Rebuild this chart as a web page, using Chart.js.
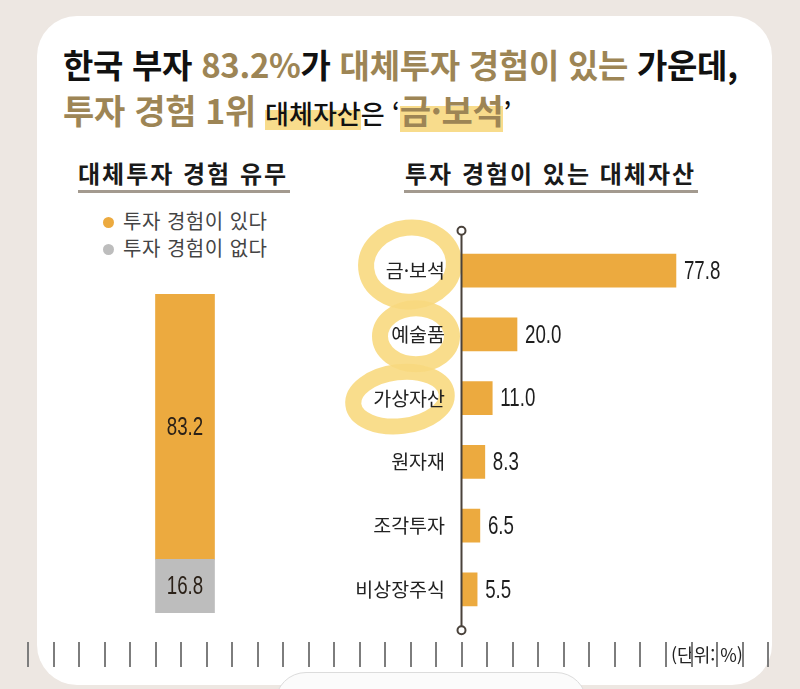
<!DOCTYPE html>
<html lang="ko">
<head>
<meta charset="utf-8">
<script src="https://cdn.jsdelivr.net/npm/chart.js@4.4.1/dist/chart.umd.min.js"></script>
<style>
  body { margin: 0; width: 800px; height: 689px; background: #ede7e2; overflow: hidden; position: relative;
         font-family: "Noto Sans CJK KR", sans-serif; }
  .card { position: absolute; left: 37px; top: 16px; width: 735px; height: 669px; background: #fff; border-radius: 40px; }
  .tab { position: absolute; left: 275px; top: 672px; width: 310px; height: 60px; background: #fbfbfb;
         border: 1.5px solid #dcdcdc; border-radius: 32px; }
  .t { position: absolute; white-space: nowrap; line-height: 1; }
  .title { font-weight: 700; font-size: 33px; letter-spacing: -0.3px; color: #111; }
  .big { font-size: 34px; letter-spacing: -0.3px; }
  .gold { color: #9d8555; }
  .small { font-size: 26px; font-weight: 500; letter-spacing: 0px; }
  .hl { background: linear-gradient(transparent 42%, #f8dc8c 42%, #f8dc8c 96%, transparent 96%); }
  .sub { font-weight: 700; font-size: 24px; color: #1a1a1a; letter-spacing: 2px; }
  .uline { position: absolute; height: 3px; background: #a39a8f; }
  .leg { font-size: 20px; color: #444; letter-spacing: 0.5px; }
  .dot { position: absolute; width: 11px; height: 11px; border-radius: 50%; }
  .tick { position: absolute; top: 642px; width: 2px; height: 25px; background: #7d7d7d; }
  canvas { position: absolute; }
</style>
</head>
<body>
<div class="card"></div>
<div class="tab"></div>

<div class="t title" style="left:63px; top:48px;">한국 부자 <span class="gold">83.2%</span>가 <span class="gold">대체투자 경험이 있는</span> 가운데,</div>
<div class="t title" style="left:63px; top:93px;"><span class="gold big">투자 경험 1위</span> <span class="small"><span class="hl">대체자산</span>은 ‘</span><span class="gold big hl">금·보석</span><span class="small">’</span></div>

<div class="t sub" style="left:78px; top:161px;">대체투자 경험 유무</div>
<div class="uline" style="left:78px; top:190px; width:212px;"></div>
<div class="t sub" style="left:405px; top:161px;">투자 경험이 있는 대체자산</div>
<div class="uline" style="left:404px; top:190px; width:294px;"></div>

<div id="legend"></div>

<canvas id="expChart" width="170" height="345" style="left:100px; top:280px;"></canvas>
<canvas id="assetChart" width="420" height="440" style="left:340px; top:210px;"></canvas>

<div class="t" style="left:671px; top:645px; font-size:18px; color:#222;">(단위: %)</div>
<div id="ruler"></div>

<script>
// 대체투자 경험 유무
const expLabels = ['투자 경험이 있다', '투자 경험이 없다'];
const expValues = [83.2, 16.8];
const expColors = ['#ecaa3f', '#bdbdbd'];

// 투자 경험이 있는 대체자산
const assetLabels = ['금·보석', '예술품', '가상자산', '원자재', '조각투자', '비상장주식'];
const assetValues = [77.8, 20.0, 11.0, 8.3, 6.5, 5.5];
const assetColor = '#ecaa3f';
const circled = ['금·보석', '예술품', '가상자산'];

const numFont = '26px "Liberation Sans", sans-serif';

// narrow number text, like the condensed face in the original
function narrowText(ctx, txt, x, y, align) {
  ctx.save();
  ctx.translate(x, y);
  ctx.scale(0.72, 1);
  ctx.textAlign = align;
  ctx.fillText(txt, 0, 0);
  ctx.restore();
}

// html legend
const legend = document.getElementById('legend');
expLabels.forEach((lab, i) => {
  const y = 216 + i * 27;
  legend.insertAdjacentHTML('beforeend',
    `<div class="dot" style="left:103px; top:${y + 1}px; background:${expColors[i]}"></div>` +
    `<div class="t leg" style="left:123px; top:${y - 5}px;">${lab}</div>`);
});

// ruler ticks along the bottom
const ruler = document.getElementById('ruler');
for (let i = 0; i < 30; i++) {
  ruler.insertAdjacentHTML('beforeend', `<div class="tick" style="left:${Math.round(27 + i * 25.52)}px"></div>`);
}

// value labels inside stacked bar
const stackLabels = {
  id: 'stackLabels',
  afterDatasetsDraw(chart) {
    const ctx = chart.ctx;
    ctx.save();
    ctx.font = numFont;
    ctx.textBaseline = 'middle';
    ctx.fillStyle = '#2b2118';
    chart.data.datasets.forEach((ds, i) => {
      chart.getDatasetMeta(i).data.forEach((bar, j) => {
        narrowText(ctx, ds.data[j].toFixed(1), bar.x, (bar.y + bar.base) / 2 + 1, 'center');
      });
    });
    ctx.restore();
  }
};

new Chart(document.getElementById('expChart'), {
  type: 'bar',
  data: {
    labels: [''],
    // reversed so the "없다" part sits at the bottom of the stack
    datasets: expValues.map((v, i) => ({
      label: expLabels[i], data: [v], backgroundColor: expColors[i], barThickness: 59
    })).reverse()
  },
  options: {
    responsive: false,
    animation: false,
    layout: { padding: { top: 14, bottom: 12 } },
    scales: {
      x: { display: false, stacked: true },
      y: { display: false, stacked: true, min: 0, max: 100 }
    },
    plugins: { legend: { display: false }, tooltip: { enabled: false } }
  },
  plugins: [stackLabels]
});

// axis line with small circles, value labels, marker circles
const assetDeco = {
  id: 'assetDeco',
  beforeDraw(chart) {
    const ctx = chart.ctx;
    const y = chart.scales.y;
    const left = chart.chartArea.left;
    ctx.save();
    ctx.strokeStyle = 'rgba(248, 217, 128, 0.9)';
    ctx.lineWidth = 16;
    const rings = { '금·보석': [-52, -6, 44, 37, -0.1], '예술품': [-46, 2, 36, 28, 0], '가상자산': [-62, 1, 47, 27, -0.12] };
    circled.forEach(name => {
      const idx = assetLabels.indexOf(name);
      const r = rings[name];
      ctx.beginPath();
      ctx.ellipse(left + r[0], y.getPixelForValue(idx) + r[1], r[2], r[3], r[4], 0, Math.PI * 2);
      ctx.stroke();
    });
    ctx.restore();
  },
  afterDatasetsDraw(chart) {
    const ctx = chart.ctx;
    const area = chart.chartArea;
    const ax = area.left - 0.5;
    const top = area.top - 8, bottom = area.bottom + 9;
    ctx.save();
    ctx.strokeStyle = '#4a423b';
    ctx.lineWidth = 2;
    ctx.beginPath();
    ctx.moveTo(ax, top + 4);
    ctx.lineTo(ax, bottom - 4);
    ctx.stroke();
    [top, bottom].forEach(cy => {
      ctx.beginPath();
      ctx.arc(ax, cy, 4, 0, Math.PI * 2);
      ctx.fillStyle = '#fff';
      ctx.fill();
      ctx.stroke();
    });
    ctx.font = numFont;
    ctx.fillStyle = '#1e1e1e';
    ctx.textBaseline = 'middle';
    chart.getDatasetMeta(0).data.forEach((bar, j) => {
      narrowText(ctx, chart.data.datasets[0].data[j].toFixed(1), bar.x + 8, bar.y + 1, 'left');
    });
    ctx.restore();
  }
};

new Chart(document.getElementById('assetChart'), {
  type: 'bar',
  data: {
    labels: assetLabels,
    datasets: [{ data: assetValues, backgroundColor: assetColor, barThickness: 33 }]
  },
  options: {
    indexAxis: 'y',
    responsive: false,
    animation: false,
    layout: { padding: { top: 15, bottom: 17, right: 23 } },
    scales: {
      x: { display: false, min: 0, max: 100 },
      y: {
        grid: { display: false, drawTicks: false },
        border: { display: false },
        ticks: { padding: 17, color: '#222', font: { family: '"Noto Sans CJK KR"', size: 19.5 } },
        afterFit(scale) { scale.width = 122; }
      }
    },
    plugins: { legend: { display: false }, tooltip: { enabled: false } }
  },
  plugins: [assetDeco]
});
</script>
</body>
</html>
